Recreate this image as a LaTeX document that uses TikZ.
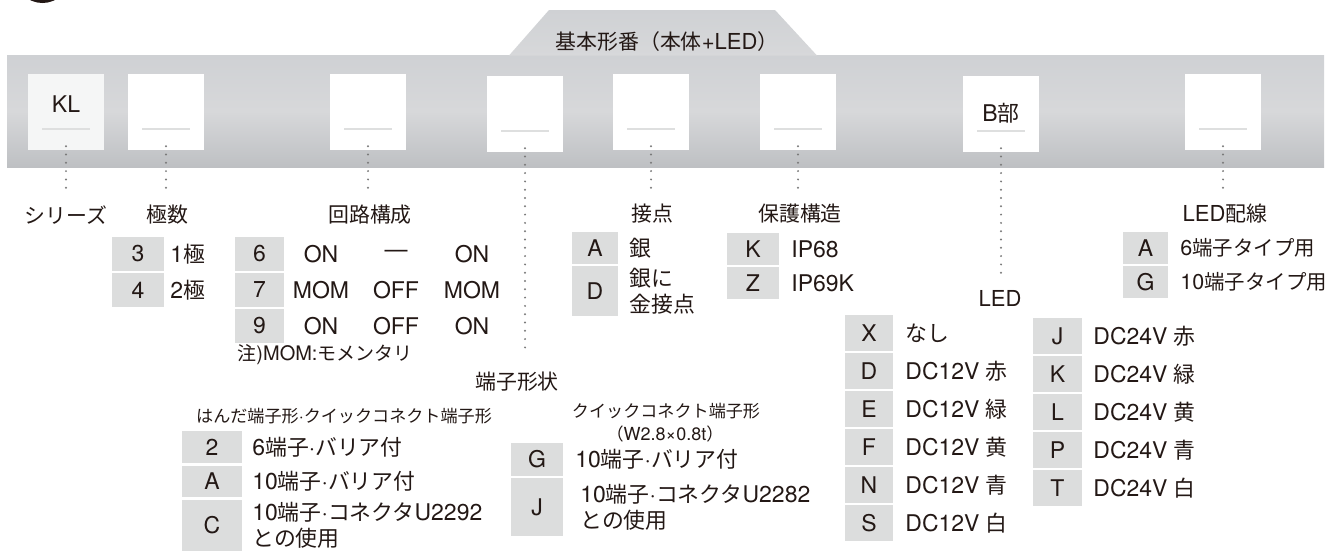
\documentclass[tikz,border=0pt]{standalone}
\usepackage{fontspec}
\setmainfont{TeX Gyre Heros}
\newfontfamily\jp{Noto Sans CJK JP}[Scale=0.95]
\usetikzlibrary{positioning}
\definecolor{ink}{HTML}{231815}
\definecolor{cellgray}{HTML}{DCDDDD}
\definecolor{dotgray}{HTML}{7A7A7A}
\definecolor{bartop}{HTML}{CFD1D4}
\definecolor{barmid}{HTML}{D7D8DA}
\definecolor{barbot}{HTML}{BEC0C3}
\definecolor{slotline}{HTML}{DEDFDF}
\definecolor{klfill}{HTML}{F5F6F6}
\tikzset{
  slot/.style={fill=white, minimum size=76, inner sep=0},
  lbl/.style={font=\fontsize{22}{24}\selectfont, text=ink, inner sep=0},
  txt/.style={font=\fontsize{23}{26}\selectfont, text=ink, inner sep=0, align=left},
  sml/.style={font=\fontsize{18}{20}\selectfont, text=ink, inner sep=0},
  cell/.style={fill=cellgray, inner sep=0, font=\fontsize{23}{26}\selectfont, text=ink},
  dots/.style={dotgray, line width=2.2, dash pattern=on 0pt off 8.3pt, line cap=round},
  bar/.style={slotline, line width=2},
}
\begin{document}
\begin{tikzpicture}[x=1pt, y=-1pt]
  \useasboundingbox (0,0) rectangle (1335,552);
  \draw[ink, line width=3] (42.5,-24.5) circle (26);
  \shade[top color=bartop, bottom color=barbot, middle color=barmid] (7,55) rectangle (1324,167);
  \shade[top color=bartop, bottom color=barmid] (509,55.5) -- (549,10) -- (775,10) -- (817,55.5) -- cycle;
  \node[lbl] (title) at (667,42) {{\jp 基本形番（本体}+LED{\jp ）}};

  \node[slot, fill=klfill] (kl) at (66,112) {};
  \node[slot] (pole) at (166,112) {};
  \node[slot] (circ) at (368,112) {};
  \node[slot] (term) at (525,114) {};
  \node[slot] (cont) at (651,112) {};
  \node[slot] (prot) at (798,112) {};
  \node[slot] (bpart) at (1001,114) {};
  \node[slot] (wire) at (1223,112) {};
  \foreach \s in {kl,pole,circ,term,cont,prot,bpart,wire}
    \draw[bar] ([xshift=-24pt,yshift=-17pt]\s.center) -- ++(48,0);
  \node[txt] (klt) at (66,104) {KL};
  \node[txt] (bpartt) at (1001,113) {B{\jp 部}};

  \node[lbl] (series) at (66,215) {\jp シリーズ};
  \node[lbl] (poles) at (167,215) {\jp 極数};
  \node[lbl] (circuit) at (370,215) {\jp 回路構成};
  \node[lbl] (contact) at (652,214) {\jp 接点};
  \node[lbl] (protect) at (800,214) {\jp 保護構造};
  \node[lbl] (wiring) at (1225,214) {LED{\jp 配線}};
  \node[lbl] (led) at (1000,298) {LED};
  \node[lbl] (terminal) at (517,382) {\jp 端子形状};

  \draw[dots] ([yshift=4pt]kl.south) -- ([yshift=10pt]kl.south |- series.north);
  \draw[dots] ([yshift=4pt]pole.south) -- ([yshift=10pt]pole.south |- poles.north);
  \draw[dots] ([yshift=4pt]circ.south) -- ([yshift=12pt]circ.south |- circuit.north);
  \draw[dots] ([yshift=4pt]term.south) -- ([yshift=18pt]term.south |- terminal.north);
  \draw[dots] ([yshift=4pt]cont.south) -- ([yshift=12pt]cont.south |- contact.north);
  \draw[dots] ([yshift=4pt]prot.south) -- ([yshift=12pt]prot.south |- protect.north);
  \draw[dots] ([yshift=4pt]bpart.south) -- ([yshift=15pt]bpart.south |- led.north);
  \draw[dots] ([yshift=4pt]wire.south) -- ([yshift=12pt]wire.south |- wiring.north);

  \node[cell, minimum width=52, minimum height=34] (p3) at (138,254) {3};
  \node[cell, minimum width=52, minimum height=34] (p4) at (138,290) {4};
  \node[txt, right=6pt of p3] (p3t) {1{\jp 極}};
  \node[txt, right=6pt of p4] (p4t) {2{\jp 極}};

  \node[cell, minimum width=49, minimum height=34] (c6) at (259.5,254) {6};
  \node[cell, minimum width=49, minimum height=34] (c7) at (259.5,290) {7};
  \node[cell, minimum width=49, minimum height=34] (c9) at (259.5,326) {9};
  \node[txt] (c6a) at (321,254) {ON};
  \node[txt] (c6b) at (396,254) {—};
  \node[txt] (c6c) at (472,254) {ON};
  \node[txt] (c7a) at (321,290) {MOM};
  \node[txt] (c7b) at (396,290) {OFF};
  \node[txt] (c7c) at (472,290) {MOM};
  \node[txt] (c9a) at (321,326) {ON};
  \node[txt] (c9b) at (396,326) {OFF};
  \node[txt] (c9c) at (472,326) {ON};
  \node[txt, font=\fontsize{20}{22}\selectfont] (note) at (325,355) {{\jp 注}{)}MOM:{\jp モメンタリ}};

  \node[cell, minimum width=46, minimum height=32] (ca) at (595,248) {A};
  \node[cell, minimum width=46, minimum height=50] (cd) at (595,291) {D};
  \node[txt, right=11pt of ca] (cat) {\jp 銀};
  \node[txt, right=11pt of cd] (cdt) {{\jp 銀に}\\{\jp 金接点}};

  \node[cell, minimum width=52, minimum height=32] (pk) at (753,249) {K};
  \node[cell, minimum width=52, minimum height=32] (pz) at (753,283) {Z};
  \node[txt, right=12pt of pk] (pkt) {IP68};
  \node[txt, right=12pt of pz] (pzt) {IP69K};

  \node[cell, minimum width=45, minimum height=32] (wa) at (1145.5,248) {A};
  \node[cell, minimum width=45, minimum height=32] (wg) at (1145.5,282) {G};
  \node[txt, font=\fontsize{21.5}{26}\selectfont, right=12pt of wa] (wat) {6{\jp 端子タイプ用}};
  \node[txt, font=\fontsize{21.5}{26}\selectfont, right=12pt of wg] (wgt) {10{\jp 端子タイプ用}};

  \foreach \c/\t [count=\i] in {X/{\jp なし}, D/DC12V {\jp 赤}, E/DC12V {\jp 緑}, F/DC12V {\jp 黄}, N/DC12V {\jp 青}, S/DC12V {\jp 白}} {
    \node[cell, minimum width=48, minimum height=36] (led\c) at (869,295+38*\i) {\c};
    \node[txt, right=12pt of led\c] (ledt\c) {\t};
  }
  \foreach \c/\t [count=\i] in {J/DC24V {\jp 赤}, K/DC24V {\jp 緑}, L/DC24V {\jp 黄}, P/DC24V {\jp 青}, T/DC24V {\jp 白}} {
    \node[cell, minimum width=49, minimum height=36] (led\c) at (1057.5,298+38*\i) {\c};
    \node[txt, right=11pt of led\c] (ledt\c) {\t};
  }

  \node[sml] (solder) at (344,416) {{\jp はんだ端子形}·{\jp クイックコネクト端子形}};
  \node[cell, minimum width=60, minimum height=32] (t2) at (212,447) {2};
  \node[cell, minimum width=60, minimum height=31] (tA) at (212,481.5) {A};
  \node[cell, minimum width=60, minimum height=51] (tC) at (212,525.5) {C};
  \node[txt, right=10pt of t2] (t2t) {6{\jp 端子}·{\jp バリア付}};
  \node[txt, right=10pt of tA] (tAt) {10{\jp 端子}·{\jp バリア付}};
  \node[txt, right=10pt of tC] (tCt) {10{\jp 端子}·{\jp コネクタ}U2292\\{\jp との使用}};

  \node[sml] (quick) at (666,411) {\jp クイックコネクト端子形};
  \node[sml] (quickw) at (665,434) {{\jp （}W2.8×0.8t{\jp ）}};
  \node[cell, minimum width=52, minimum height=33] (tG) at (537,459.5) {G};
  \node[cell, minimum width=52, minimum height=58] (tJ) at (537,507) {J};
  \node[txt, right=12pt of tG] (tGt) {10{\jp 端子}·{\jp バリア付}};
  \node[txt, right=17pt of tJ] (tJt) {10{\jp 端子}·{\jp コネクタ}U2282\\{\jp との使用}};
\end{tikzpicture}
\end{document}
